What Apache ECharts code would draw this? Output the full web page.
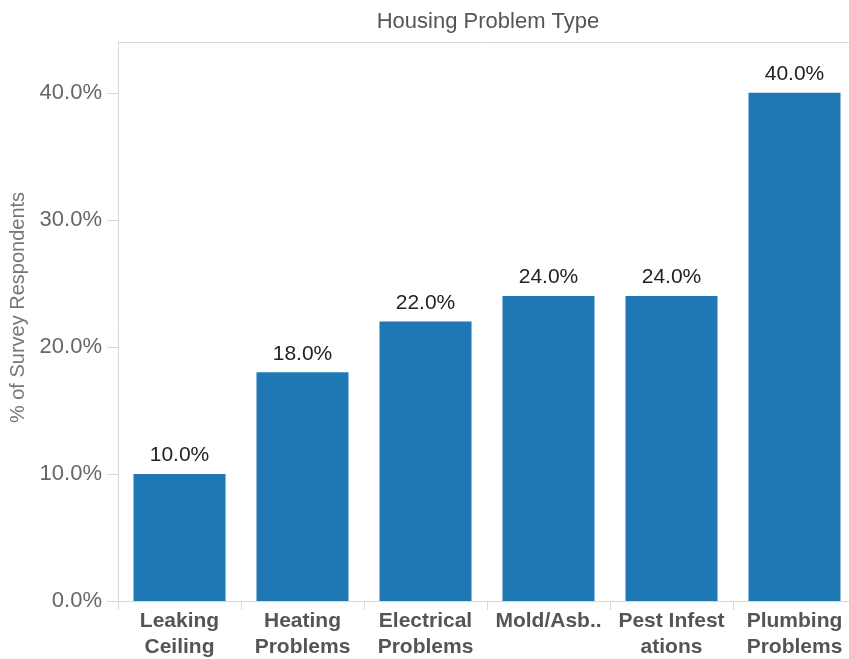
<!DOCTYPE html>
<html>
<head>
<meta charset="utf-8">
<script src="https://cdn.jsdelivr.net/npm/echarts@6/dist/echarts.min.js"></script>
<style>
  html, body { margin: 0; padding: 0; background: #fff; }
  #chart { width: 849px; height: 659px; }
</style>
</head>
<body>
<div id="chart"></div>
<script>
// housing problem survey data
const categories = [
  'Leaking\nCeiling',
  'Heating\nProblems',
  'Electrical\nProblems',
  'Mold/Asb..',
  'Pest Infest\nations',
  'Plumbing\nProblems',
]
const percentValues = [10, 18, 22, 24, 24, 40]
const yTickValues = [0, 10, 20, 30, 40]

const fontFamily = '"Liberation Sans", Arial, Helvetica, sans-serif'
const lineColor = '#d8d8d8'

const chart = echarts.init(document.getElementById('chart'))

const option = {
  animation: false,
  title: {
    text: 'Housing Problem Type',
    left: 483,
    textAlign: 'center',
    top: 6,
    textStyle: {
      fontFamily: fontFamily,
      fontSize: 22,
      fontWeight: 'normal',
      color: '#555',
    },
  },
  grid: {
    left: 118,
    top: 42,
    bottom: 58,
    width: 738,
    outerBoundsMode: 'none',
  },
  xAxis: [
    {
      type: 'category',
      data: categories,
      axisLine: {
        lineStyle: { color: lineColor, width: 1 },
      },
      axisTick: {
        show: true,
        length: 9,
        lineStyle: { color: lineColor },
      },
      axisLabel: {
        interval: 0,
        margin: 7,
        fontFamily: fontFamily,
        fontSize: 21,
        fontWeight: 'bold',
        lineHeight: 26,
        color: '#555',
      },
    },
    {
      // top frame line
      type: 'category',
      data: categories,
      position: 'top',
      axisLine: {
        show: true,
        lineStyle: { color: lineColor, width: 1 },
      },
      axisTick: { show: false },
      axisLabel: { show: false },
    },
  ],
  yAxis: {
    type: 'value',
    min: 0,
    max: 44,
    interval: 10,
    name: '% of Survey Respondents',
    nameLocation: 'middle',
    nameGap: 83,
    nameTextStyle: {
      fontFamily: fontFamily,
      fontSize: 20,
      color: '#777',
      padding: [0, 0, 0, 28],
    },
    axisLine: {
      show: true,
      lineStyle: { color: lineColor },
    },
    axisTick: {
      show: true,
      length: 11,
      customValues: yTickValues,
      lineStyle: { color: lineColor },
    },
    axisLabel: {
      margin: 16,
      customValues: yTickValues,
      fontFamily: fontFamily,
      fontSize: 22,
      color: '#666',
      formatter: function (value) {
        return value.toFixed(1) + '%'
      },
    },
    splitLine: { show: false },
  },
  series: [
    {
      type: 'bar',
      data: percentValues,
      barWidth: 92,
      itemStyle: { color: '#1f77b4' },
      label: {
        show: true,
        position: 'top',
        distance: 8,
        fontFamily: fontFamily,
        fontSize: 21,
        color: '#222',
        formatter: function (p) {
          return p.value.toFixed(1) + '%'
        },
      },
    },
  ],
}

chart.setOption(option)
</script>
</body>
</html>
